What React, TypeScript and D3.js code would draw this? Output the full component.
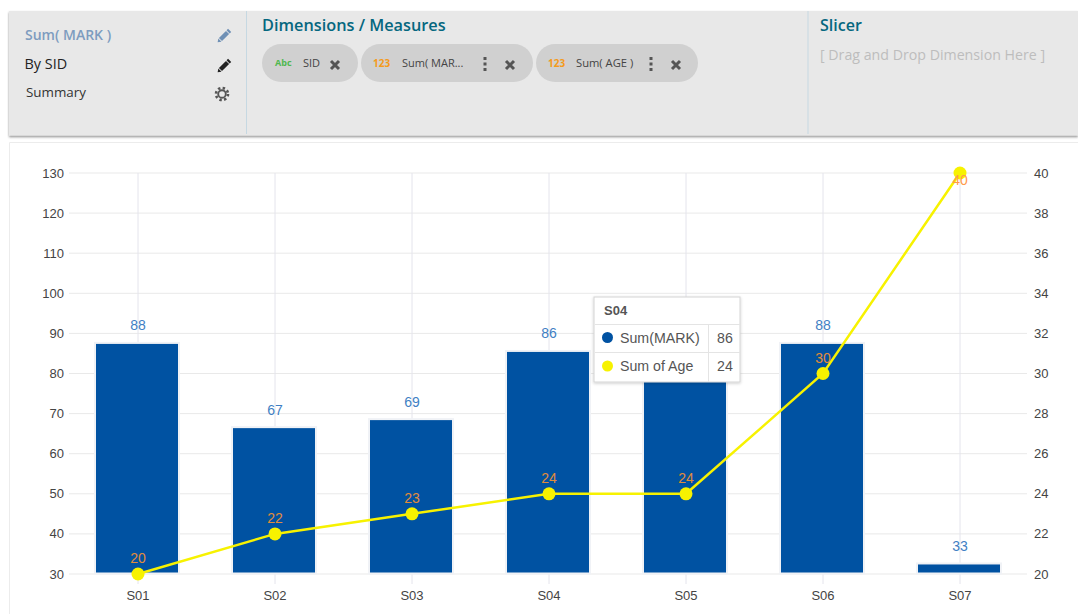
import React from "react";
import * as d3 from "d3";

const categories = ["S01", "S02", "S03", "S04", "S05", "S06", "S07"];
const markValues = [88, 67, 69, 86, 82, 88, 33];
const ageValues = [20, 22, 23, 24, 24, 30, 40];
const leftTicks = [30, 40, 50, 60, 70, 80, 90, 100, 110, 120, 130];
const rightTicks = [20, 22, 24, 26, 28, 30, 32, 34, 36, 38, 40];
const hiddenLabelIndex = 4;

const AXIS = "'Liberation Sans', Arial, sans-serif";
const UI = "'Open Sans', sans-serif";

const x = d3.scalePoint<string>().domain(categories).range([138, 960]);
const yLeft = d3.scaleLinear().domain([30, 130]).range([574, 173]);
const yRight = d3.scaleLinear().domain([20, 40]).range([574, 173]);
const lineGen = d3
  .line<number>()
  .x((_, i) => x(categories[i]) as number)
  .y((d) => yRight(d));

function Pencil({ cx, cy, color }: { cx: number; cy: number; color: string }) {
  return (
    <g transform={`translate(${cx},${cy}) rotate(45)`} fill={color}>
      <rect x={-2.2} y={-5} width={4.4} height={10} />
      <rect x={-2.2} y={-8} width={4.4} height={2.2} />
      <path d="M-2.2,5.8 L2.2,5.8 L0,9 Z" />
    </g>
  );
}

function Cross({ cx, cy }: { cx: number; cy: number }) {
  return (
    <path
      d={`M${cx - 4},${cy - 4} L${cx + 4},${cy + 4} M${cx + 4},${cy - 4} L${cx - 4},${cy + 4}`}
      stroke="#555"
      strokeWidth={3}
    />
  );
}

function Dots({ cx, cy }: { cx: number; cy: number }) {
  return (
    <g fill="#555">
      {[-5.5, 0, 5.5].map((d) => (
        <rect key={d} x={cx - 1.5} y={cy + d - 1.5} width={3} height={3} />
      ))}
    </g>
  );
}

function Gear({ cx, cy }: { cx: number; cy: number }) {
  return (
    <g>
      <circle cx={cx} cy={cy} r={6} fill="none" stroke="#555" strokeWidth={2.6} strokeDasharray="2.4 2.3" />
      <circle cx={cx} cy={cy} r={3.8} fill="none" stroke="#555" strokeWidth={1.9} />
    </g>
  );
}

function Pill({ left, width, children }: { left: number; width: number; children?: React.ReactNode }) {
  return (
    <g>
      <rect x={left} y={44} width={width} height={38} rx={19} fill="#d0d0d0" />
      {children}
    </g>
  );
}

export default function App() {
  const barW = 84;
  const barShift = -1;
  const barInset = 1.5;
  return (
    <svg
      width={1078}
      height={614}
      style={{ position: "absolute", left: 0, top: 0, background: "#fff" }}
    >
      <defs>
        <filter id="tipShadow" x="-10%" y="-10%" width="120%" height="120%">
          <feDropShadow dx={0} dy={1} stdDeviation={1.5} floodColor="#000" floodOpacity={0.2} />
        </filter>
        <filter id="headShadow" x="-2%" y="-5%" width="104%" height="115%">
          <feDropShadow dx={0} dy={1.5} stdDeviation={1} floodColor="#000" floodOpacity={0.45} />
        </filter>
      </defs>

      {/* header */}
      <rect x={9} y={11} width={1069} height={124.5} fill="#e8e8e8" filter="url(#headShadow)" />
      <line x1={246.5} x2={246.5} y1={11} y2={134} stroke="#c6d8e2" />
      <line x1={808} x2={808} y1={11} y2={134} stroke="#c6d8e2" />

      <text x={25} y={40} fontFamily={UI} fontSize={14} fontWeight={600} fill="#7d9cbf">Sum( MARK )</text>
      <text x={24.5} y={69} fontFamily={UI} fontSize={14.4} fontWeight={500} fill="#222">By SID</text>
      <text x={26} y={97} fontFamily={UI} fontSize={13.4} fill="#333">Summary</text>
      <Pencil cx={224} cy={36} color="#6f90b5" />
      <Pencil cx={224} cy={66} color="#222" />
      <Gear cx={222} cy={94} />

      <text x={262} y={31} fontFamily={UI} fontSize={16.3} fontWeight={600} fill="#05677f">Dimensions / Measures</text>
      <text x={820} y={31} fontFamily={UI} fontSize={16} fontWeight={600} fill="#05677f">Slicer</text>
      <text x={820} y={60} fontFamily={UI} fontSize={14.2} fill="#bdbdbd">[ Drag and Drop Dimension Here ]</text>

      <Pill left={262} width={96}>
        <text x={275} y={66} fontFamily={UI} fontSize={9} fontWeight={700} fill="#4fb84f">Abc</text>
        <text x={303} y={67} fontFamily={UI} fontSize={11} fill="#444">SID</text>
        <Cross cx={335} cy={65} />
      </Pill>
      <Pill left={361} width={172}>
        <text x={373} y={67} fontFamily={UI} fontSize={10} fontWeight={700} fill="#f59a1b">123</text>
        <text x={402} y={67} fontFamily={UI} fontSize={11} fill="#444">Sum( MAR...</text>
        <Dots cx={485} cy={64} />
        <Cross cx={510} cy={65} />
      </Pill>
      <Pill left={536} width={162}>
        <text x={548} y={67} fontFamily={UI} fontSize={10} fontWeight={700} fill="#f59a1b">123</text>
        <text x={576} y={67} fontFamily={UI} fontSize={11.2} fill="#444">Sum( AGE )</text>
        <Dots cx={651} cy={64} />
        <Cross cx={676} cy={65} />
      </Pill>

      {/* chart panel */}
      <path d="M9.5,614 V142.5 H1078" fill="none" stroke="#ececec" />

      {/* grid */}
      {leftTicks.map((t) => (
        <line key={t} x1={69} x2={1027} y1={yLeft(t)} y2={yLeft(t)} stroke="#e9e9e9" />
      ))}
      {categories.map((c) => (
        <line
          key={c}
          x1={x(c) as number}
          x2={x(c) as number}
          y1={173}
          y2={584}
          stroke="#e4e4ec"
        />
      ))}

      {/* bars */}
      {markValues.map((v, i) => (
        <rect
          key={categories[i]}
          x={(x(categories[i]) as number) - barW / 2 + barShift}
          y={yLeft(v) + barInset}
          width={barW}
          height={yLeft(30) - yLeft(v) - barInset - 0.5}
          fill="#0052a2"
          stroke="#f0f2f6"
          strokeWidth={2}
        />
      ))}
      {markValues.map((v, i) =>
        i === hiddenLabelIndex ? null : (
          <text
            key={categories[i]}
            x={x(categories[i]) as number}
            y={yLeft(v) - 11}
            textAnchor="middle"
            fontFamily={AXIS}
            fontSize={14}
            fill="#3f7fc4"
          >
            {v}
          </text>
        )
      )}

      {/* line */}
      <path d={lineGen(ageValues) ?? ""} fill="none" stroke="#f7f200" strokeWidth={2.5} />
      {ageValues.map((v, i) => (
        <circle
          key={categories[i]}
          cx={x(categories[i]) as number}
          cy={yRight(v)}
          r={6.5}
          fill="#f7f200"
        />
      ))}
      {ageValues.map((v, i) => (
        <text
          key={categories[i]}
          x={x(categories[i]) as number}
          y={i === ageValues.length - 1 ? yRight(v) + 12 : yRight(v) - 11}
          textAnchor="middle"
          fontFamily={AXIS}
          fontSize={14}
          fill={i === ageValues.length - 1 ? "#ff9a4a" : "#e08c3a"}
        >
          {v}
        </text>
      ))}

      {/* axes */}
      {leftTicks.map((t) => (
        <text key={t} x={64} y={yLeft(t) + 4.5} textAnchor="end" fontFamily={AXIS} fontSize={13} fill="#444">
          {t}
        </text>
      ))}
      {rightTicks.map((t) => (
        <text key={t} x={1034} y={yRight(t) + 4.5} fontFamily={AXIS} fontSize={13} fill="#444">
          {t}
        </text>
      ))}
      {categories.map((c) => (
        <text key={c} x={x(c) as number} y={600} textAnchor="middle" fontFamily={AXIS} fontSize={13} fill="#444">
          {c}
        </text>
      ))}

      {/* tooltip */}
      <g fontFamily={AXIS} fontSize={14.2} fill="#555">
        <rect x={594} y={297} width={146} height={85} fill="#fff" stroke="#d4d4d4" filter="url(#tipShadow)" />
        <line x1={595} x2={740} y1={324.5} y2={324.5} stroke="#e4e4e4" />
        <line x1={595} x2={740} y1={352.5} y2={352.5} stroke="#e4e4e4" />
        <line x1={708.5} x2={708.5} y1={324} y2={382} stroke="#e4e4e4" />
        <text x={604} y={315} fontWeight={700} fontSize={13}>S04</text>
        <circle cx={607.5} cy={337.5} r={5.5} fill="#0052a2" />
        <circle cx={607.5} cy={366} r={5.5} fill="#f7f200" />
        <text x={620} y={343}>Sum(MARK)</text>
        <text x={620} y={371}>Sum of Age</text>
        <text x={717} y={343}>86</text>
        <text x={717} y={371}>24</text>
      </g>
    </svg>
  );
}
